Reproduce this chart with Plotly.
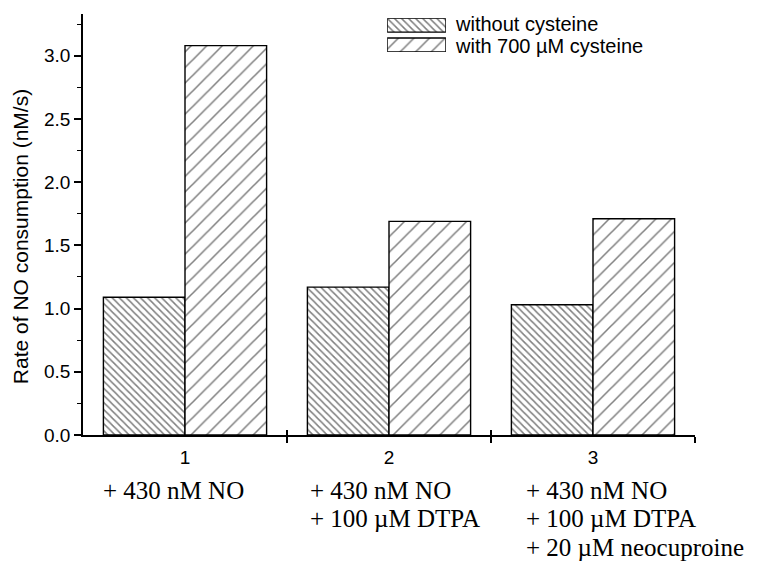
import plotly.graph_objects as go

# Data
groups = [1, 2, 3]
series_names = ["without cysteine", "with 700 \u00b5M cysteine"]
without_cys = [1.09, 1.17, 1.03]
with_cys = [3.08, 1.69, 1.71]
condition_lines = [
    ["+ 430 nM NO"],
    ["+ 430 nM NO", "+ 100 \u00b5M DTPA"],
    ["+ 430 nM NO", "+ 100 \u00b5M DTPA", "+ 20 \u00b5M neocuproine"],
]
y_ticks = [0.0, 0.5, 1.0, 1.5, 2.0, 2.5, 3.0]

patterns = [
    dict(shape="\\", size=5, solidity=0.3, fgcolor="black", bgcolor="white"),
    dict(shape="/", size=11, solidity=0.14, fgcolor="black", bgcolor="white"),
]

fig = go.Figure()
for name, vals, pat in zip(series_names, [without_cys, with_cys], patterns):
    fig.add_trace(go.Bar(
        x=groups, y=vals, name=name,
        marker=dict(color="white", pattern=pat, line=dict(color="black", width=1.4)),
        showlegend=False,
    ))

# Legend swatches drawn as small bars on their own axes
for i, (name, pat) in enumerate(zip(series_names, patterns)):
    fig.add_trace(go.Bar(
        x=[1], y=[i], orientation="h", width=0.7,
        marker=dict(color="white", pattern=pat, line=dict(color="black", width=1.4)),
        xaxis="x2", yaxis="y2", showlegend=False, hoverinfo="skip",
    ))

axis_font = dict(family="Liberation Sans, Arial, sans-serif", size=19, color="black")
serif_font = dict(family="Liberation Serif, Times New Roman, serif", size=25, color="black")

fig.update_layout(
    width=759, height=567,
    margin=dict(l=83, r=64, t=14, b=132),
    paper_bgcolor="white", plot_bgcolor="white",
    barmode="group", bargap=0.2, bargroupgap=0,
    xaxis=dict(
        range=[0.5, 3.5], tickvals=groups, ticktext=[str(g) for g in groups],
        ticks="outside", ticklen=4, tickcolor="rgba(0,0,0,0)",
        tickfont=axis_font, showgrid=False, zeroline=False,
        showline=True, linecolor="black", linewidth=1.5,
        minor=dict(tickvals=[1.5, 2.5, 3.5], ticks="outside", ticklen=6,
                   tickcolor="black", tickwidth=1.5, showgrid=False),
    ),
    xaxis3=dict(
        overlaying="x", range=[0.5, 3.5], tickvals=[1.5, 2.5, 3.5],
        ticks="inside", ticklen=5, tickcolor="black", tickwidth=1.5,
        showticklabels=False, showgrid=False, zeroline=False, showline=False,
        anchor="y",
    ),
    yaxis=dict(
        range=[0, 3.33], tickvals=y_ticks, ticktext=[f"{v:.1f}" for v in y_ticks],
        ticks="outside", ticklen=7, tickwidth=1.5, tickcolor="black",
        tickfont=axis_font, showgrid=False, zeroline=False,
        showline=True, linecolor="black", linewidth=1.5,
        minor=dict(dtick=0.25, tick0=0, ticks="outside", ticklen=4,
                   tickcolor="black", tickwidth=1.2, showgrid=False),
    ),
    xaxis2=dict(domain=[0.497, 0.593], range=[0, 1], visible=False, fixedrange=True),
    yaxis2=dict(domain=[0.910, 0.990], range=[1.35, -0.35], visible=False,
                fixedrange=True, anchor="x2"),
    showlegend=False,
)

# dummy trace so the overlay x axis is rendered
fig.add_trace(go.Scatter(x=[None], y=[None], xaxis="x3", yaxis="y",
                         showlegend=False, hoverinfo="skip"))

# Legend labels
for i, name in enumerate(series_names):
    fig.add_annotation(
        text=name, xref="paper", yref="paper",
        x=(454 - 83) / 612, y=(435 - (24 + 22 * i)) / 421,
        xanchor="left", yanchor="middle", showarrow=False, borderpad=0,
        font=dict(family="Liberation Sans, Arial, sans-serif", size=20, color="black"),
    )

# Y axis title
fig.add_annotation(
    text="Rate of NO consumption (nM/s)", xref="paper", yref="paper",
    x=0, xshift=-63, y=0.47, textangle=-90,
    xanchor="center", yanchor="middle", showarrow=False,
    font=dict(family="Liberation Sans, Arial, sans-serif", size=21, color="black"),
)

# Condition descriptions under each group
text_left = [102, 309, 525]
for g, lines, left in zip(groups, condition_lines, text_left):
    for j, line in enumerate(lines):
        fig.add_annotation(
            text=line, xref="paper", yref="paper",
            x=(left - 83) / 612, y=0, yshift=-(55 + 28.5 * j),
            xanchor="left", yanchor="middle", showarrow=False, borderpad=0,
            font=serif_font,
        )

fig.write_html("out.html")
